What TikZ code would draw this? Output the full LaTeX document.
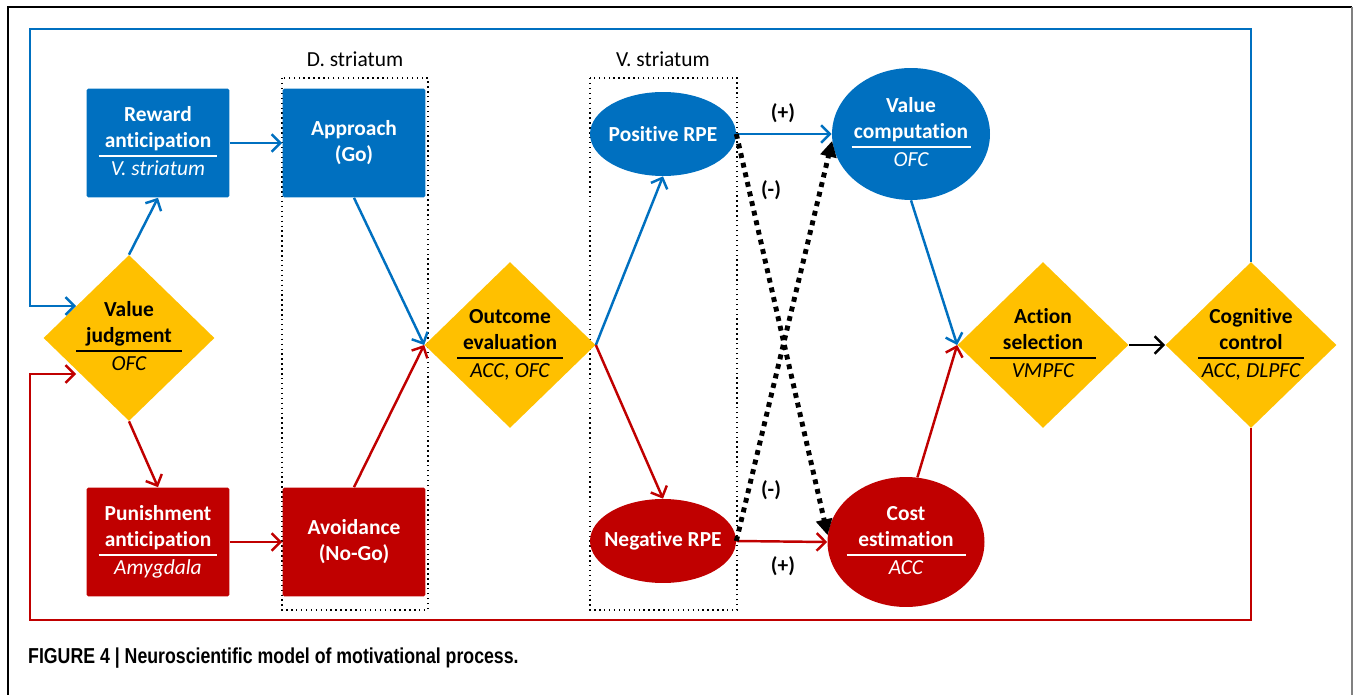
\documentclass[tikz,border=0pt]{standalone}
\usepackage{fontspec}
\setmainfont{Carlito}[RawFeature={-liga;-clig;-calt}]
\newfontfamily\capfont[FakeStretch=0.82]{Liberation Sans}
\usetikzlibrary{arrows.meta}
\usetikzlibrary{positioning}
\usetikzlibrary{shapes.geometric}

\definecolor{ablue}{RGB}{0,112,192}
\definecolor{ared}{RGB}{192,0,0}
\definecolor{agold}{RGB}{255,192,0}
\setlength{\arrayrulewidth}{1.1pt}
\newcommand{\nodefont}{\fontsize{12.2}{14.8}\selectfont}
\newcommand{\trio}[4][2.38cm]{\makebox[0pt]{\begin{tabular}{@{}c@{}}#2\\\makebox[#1]{#3}\\\hline{\mdseries\itshape #4}\end{tabular}}}

\tikzset{
  box/.style={rectangle, rounded corners=1pt, minimum width=2.86cm, minimum height=2.18cm, align=center, text=white, font=\nodefont\bfseries},
  bluebox/.style={box, fill=ablue},
  redbox/.style={box, fill=ared},
  gem/.style={diamond, fill=agold, minimum width=3.42cm, minimum height=3.32cm, inner sep=0pt, font=\nodefont\bfseries},
  oval/.style={ellipse, inner sep=0pt, text=white, font=\nodefont\bfseries},
  bline/.style={->, color=ablue, line width=1.4pt},
  rline/.style={->, color=ared, line width=1.4pt},
  negline/.style={-{Triangle[length=9pt,width=9pt]}, line width=2.8pt, dash pattern=on 2.8pt off 2.8pt},
  sign/.style={font=\nodefont\bfseries},
  grouptitle/.style={font=\nodefont},
  groupbox/.style={dotted, line width=0.8pt}
}

\begin{document}
\begin{tikzpicture}[x=0.02cm,y=-0.02cm,>={Straight Barb[length=5pt,width=10pt]}]
\useasboundingbox (0,0) rectangle (1354,695);
% frame
\draw[line width=1pt] (8,695) -- (8,7) -- (1352,7);
\draw[gray, line width=1pt] (1352,7) -- (1352,695);

% striatum groups
\draw[groupbox] (282,78) rectangle (428,610);
\draw[groupbox] (590,78) rectangle (737,610);
\node[grouptitle] (dlab) at (355,59) {D. striatum};
\node[grouptitle] (vlab) at (663,59) {V. striatum};

% nodes
\node[gem] (judg) at (129,338) {\trio[2.12cm]{Value}{judgment}{OFC}};
\node[bluebox] (rew) at (158,143) {\trio{Reward}{anticipation}{V. striatum}};
\node[bluebox] (appr) at (354,143) {Approach\\(Go)};
\node[redbox] (pun) at (158,542) {\trio{Punishment}{anticipation}{Amygdala}};
\node[redbox] (avoid) at (354,542) {Avoidance\\(No-Go)};
\node[gem] (outc) at (510,345) {\trio[2.12cm]{Outcome}{evaluation}{ACC, OFC}};
\node[oval, fill=ablue, minimum width=2.92cm, minimum height=1.68cm] (posr) at (663,134) {\makebox[0pt]{Positive RPE}};
\node[oval, fill=ared, minimum width=2.92cm, minimum height=1.68cm] (negr) at (663,541) {\makebox[0pt]{Negative RPE}};
\node[oval, fill=ablue, minimum width=3.16cm, minimum height=2.64cm] (vcomp) at (911,134) {\trio{Value}{computation}{OFC}};
\node[oval, fill=ared, minimum width=3.14cm, minimum height=2.6cm] (cost) at (906,542) {\trio{Cost}{estimation}{ACC}};
\node[gem] (act) at (1043,345) {\trio[2.12cm]{Action}{selection}{VMPFC}};
\node[gem] (cog) at (1251,345) {\trio[2.12cm]{Cognitive}{control}{ACC, DLPFC}};

% connectors
\draw[bline] (judg.north) -- (rew.south);
\draw[rline] (judg.south) -- (pun.north);
\draw[bline] (rew.east) -- (appr.west);
\draw[rline] (pun.east) -- (avoid.west);
\draw[bline] (appr.south) -- (outc.west);
\draw[rline] (avoid.north) -- (outc.west);
\draw[bline] (outc.east) -- (posr.south);
\draw[rline] (outc.east) -- (negr.north);
\draw[bline] (posr.east) -- (vcomp.west);
\draw[rline] (negr.east) -- (cost.west);
\draw[negline] (posr.east) -- (cost.175);
\draw[negline] (negr.east) -- (vcomp.185);
\draw[bline] (vcomp.south) -- (act.west);
\draw[rline] (cost.80) -- (act.west);
\draw[->, line width=1.4pt] (act.east) -- (cog.west);
\node[sign] (pplus) at (783,113) {(+)};
\node[sign] (pminus) at (771,190) {(-)};
\node[sign] (nminus) at (771,490) {(-)};
\node[sign] (nplus) at (783,566) {(+)};

% feedback loops
\coordinate (tl) at (30,29);
\coordinate (bl) at (30,620);
\coordinate (jtop) at (76,306);
\coordinate (jbot) at (76,374);
\draw[bline] (cog.north) |- (tl) |- (jtop);
\draw[rline] (cog.south) |- (bl) |- (jbot);

\node[anchor=west, font=\capfont\fontsize{12.3}{14}\selectfont\bfseries] (cap) at (22,658) {FIGURE 4 | Neuroscientific model of motivational process.};
\end{tikzpicture}
\end{document}
